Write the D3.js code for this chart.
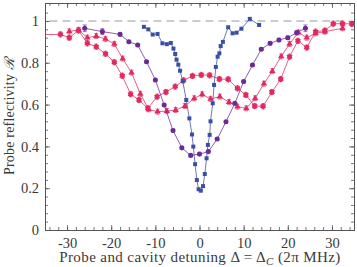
<!DOCTYPE html>
<html><head><meta charset="utf-8">
<script src="https://cdn.jsdelivr.net/npm/d3@7"></script>
<style>body{margin:0;background:#fff}svg{display:block}</style>
</head><body><svg id="c" width="357" height="267"></svg>
<script>
// ---- data ----
const xTicks = [-30,-20,-10,0,10,20,30];
const yTicks = [0,0.2,0.4,0.6,0.8,1];
const yTickLabels = ["0","0.2","0.4","0.6","0.8","1"];

const blueX = [-12.6,-11.6,-10.6,-9.5,-8.4,-7.4,-6.5,-5.9,-5.5,-5.2,-4.8,-4.4,-3.8,-3.0,-2.3,-1.7,-1.4,-1.0,-0.6,-0.2,0.3,0.8,1.2,1.6,1.9,2.3,2.5,3.0,3.3,3.7,4.1,4.5,4.8,5.3,6.5,7.5,8.4,9.5,11.4,13.5];
const blueY = [0.972,0.96,0.935,0.938,0.893,0.889,0.895,0.868,0.842,0.815,0.791,0.762,0.712,0.622,0.534,0.457,0.399,0.315,0.239,0.195,0.188,0.21,0.268,0.343,0.407,0.455,0.52,0.606,0.694,0.78,0.829,0.845,0.88,0.90,0.97,0.941,0.944,0.963,1.01,0.981];

const purpleX = [-26,-22,-18,-16,-14,-12,-10,-8,-6,-4,-2,0,2,4,6,8,10,12,14,16,18,20,22,24];
const purpleY = [0.965,0.949,0.936,0.901,0.885,0.805,0.718,0.598,0.476,0.393,0.357,0.363,0.375,0.435,0.518,0.606,0.71,0.789,0.865,0.893,0.909,0.92,0.944,0.965];
const purpleErr = [0.016,0.014,0.008,0.006,0.006,0.006,0.006,0.006,0.006,0.006,0.006,0.006,0.006,0.006,0.006,0.006,0.006,0.006,0.006,0.008,0.008,0.008,0.01,0.016];

const starX = [-35.5,-31.5,-29.5,-27.4,-25.4,-23.4,-21.3,-19.3,-17.5,-15.6,-13.7,-11.7,-9.6,-7.6,-5.5,-3.6,-1.6,0.4,2.3,4.5,6.5,8.6,10.5,12.5,14.4,16.4,18.4,20.4,22.3,24.3,26.3,28.4,30.3,32.4,34.5];
const starY = [0.935,0.936,0.92,0.955,0.893,0.877,0.843,0.803,0.738,0.65,0.622,0.582,0.638,0.66,0.686,0.716,0.737,0.742,0.740,0.722,0.721,0.678,0.646,0.593,0.592,0.66,0.722,0.829,0.905,0.873,0.949,0.954,0.987,0.987,0.986];

const triX = [-29.5,-27.4,-25.4,-23.4,-21.3,-19.3,-17.4,-15.4,-13.4,-11.5,-9.5,-7.4,-5.4,-3.3,-1.2,0.6,2.5,4.6,6.7,8.6,10.6,12.6,14.6,16.5,18.5,20.4,22.4,24.3,26.3,28.4,32.4];
const triY = [0.95,0.957,0.92,0.928,0.914,0.89,0.82,0.753,0.651,0.577,0.566,0.569,0.574,0.593,0.63,0.649,0.627,0.638,0.612,0.59,0.582,0.63,0.70,0.76,0.83,0.89,0.945,0.92,0.941,0.949,0.965];
const redErr = 0.012;

// ---- layout ----
const W = 357, H = 267;
const m = {l:45, r:3, t:3, b:37};
const svg = d3.select("#c");
const x = d3.scaleLinear().domain([-35,35]).range([m.l, W-m.r]);
const y = d3.scaleLinear().domain([0,1.086]).range([H-m.b, m.t]);

const blue = "#3b4ea6", purple = "#6b2a96", red = "#e1285f";
const font = "'Liberation Serif','DejaVu Serif',serif";
const txt = "#3a3a3a";

svg.append("defs").append("clipPath").attr("id","clip")
  .append("rect").attr("x",m.l).attr("y",m.t).attr("width",W-m.l-m.r).attr("height",H-m.t-m.b);

const ax = svg.append("g");
const xMinor = d3.range(-34,35,2);
const yMinor = d3.range(0,1.08,0.04);

const gB = ax.append("g").attr("transform",`translate(0,${H-m.b})`);
gB.call(d3.axisBottom(x).tickValues(xMinor).tickSize(-3).tickFormat(""));
gB.append("g").call(d3.axisBottom(x).tickValues(xTicks).tickSize(-5).tickFormat(d=>d));
const gT = ax.append("g").attr("transform",`translate(0,${m.t})`);
gT.call(d3.axisTop(x).tickValues(xMinor).tickSize(-3).tickFormat(""));
gT.append("g").call(d3.axisTop(x).tickValues(xTicks).tickSize(-5).tickFormat(""));
const gL = ax.append("g").attr("transform",`translate(${m.l},0)`);
gL.call(d3.axisLeft(y).tickValues(yMinor).tickSize(-3).tickFormat(""));
gL.append("g").call(d3.axisLeft(y).tickValues(yTicks).tickSize(-5).tickFormat((d,i)=>yTickLabels[i]));
const gR = ax.append("g").attr("transform",`translate(${W-m.r},0)`);
gR.call(d3.axisRight(y).tickValues(yMinor).tickSize(-3).tickFormat(""));
gR.append("g").call(d3.axisRight(y).tickValues(yTicks).tickSize(-5).tickFormat(""));
ax.selectAll("path.domain").attr("stroke","#555").attr("stroke-width",1);
ax.selectAll(".tick line").attr("stroke","#555").attr("stroke-width",0.8);
ax.selectAll("text").attr("font-family",font).attr("font-size",14.5).attr("fill",txt);
gB.selectAll("text").attr("dy","1.0em");
gL.selectAll("text").attr("dx","-0.2em");

// dashed reference at 1
svg.append("line").attr("x1",x(-34)).attr("x2",x(34)).attr("y1",y(1)).attr("y2",y(1))
  .attr("stroke","#999").attr("stroke-width",1.2).attr("stroke-dasharray","8,5");

const plot = svg.append("g").attr("clip-path","url(#clip)");

const hexStar = { draw(ctx, size){
  const R = Math.sqrt(size)*0.62, r = R*0.68;
  for(let i=0;i<12;i++){
    const a = Math.PI/6*i - Math.PI/2;
    const rr = i%2===0 ? R : r;
    if(i===0) ctx.moveTo(rr*Math.cos(a), rr*Math.sin(a)); else ctx.lineTo(rr*Math.cos(a), rr*Math.sin(a));
  }
  ctx.closePath();
}};

function series(xs, ys, color, symType, size, err){
  const pts = xs.map((d,i)=>({x:d, y:ys[i], e: Array.isArray(err)? err[i] : err}));
  plot.append("path").datum(pts)
    .attr("d", d3.line().x(d=>x(d.x)).y(d=>y(d.y)))
    .attr("fill","none").attr("stroke",color).attr("stroke-opacity",0.75).attr("stroke-width",1);
  if(err){
    const g = plot.append("g").attr("stroke",color).attr("stroke-width",0.8).attr("stroke-opacity",0.8);
    pts.forEach(d=>{
      g.append("line").attr("x1",x(d.x)).attr("x2",x(d.x)).attr("y1",y(d.y-d.e)).attr("y2",y(d.y+d.e));
      g.append("line").attr("x1",x(d.x)-2).attr("x2",x(d.x)+2).attr("y1",y(d.y-d.e)).attr("y2",y(d.y-d.e));
      g.append("line").attr("x1",x(d.x)-2).attr("x2",x(d.x)+2).attr("y1",y(d.y+d.e)).attr("y2",y(d.y+d.e));
    });
  }
  plot.append("g").selectAll("path").data(pts).join("path")
    .attr("transform",d=>`translate(${x(d.x)},${y(d.y)})`)
    .attr("d", d3.symbol().type(symType).size(size))
    .attr("fill",color);
}

series(starX, starY, red, hexStar, 30, redErr);
series(triX, triY, red, d3.symbolTriangle, 18, redErr);
series(purpleX, purpleY, purple, d3.symbolCircle, 20, purpleErr);
series(blueX, blueY, blue, d3.symbolSquare, 16, 0);

// labels
svg.append("text").attr("x",200).attr("y",262).attr("text-anchor","middle")
  .attr("font-family",font).attr("font-size",15).attr("letter-spacing",0.4).attr("fill",txt)
  .call(t=>{
    t.append("tspan").text("Probe and cavity detuning Δ = Δ");
    t.append("tspan").attr("font-style","italic").attr("font-size",11).attr("dy",3).text("C");
    t.append("tspan").attr("dy",-3).text(" (2π MHz)");
  });
svg.append("text").attr("transform",`translate(14,${(m.t+H-m.b)/2}) rotate(-90)`).attr("text-anchor","middle")
  .attr("font-family",font).attr("font-size",14).attr("letter-spacing",0.2).attr("fill",txt)
  .call(t=>{
    t.append("tspan").text("Probe reflectivity ");
    t.append("tspan").attr("font-style","italic").text("ℛ");
  });
</script></body></html>
